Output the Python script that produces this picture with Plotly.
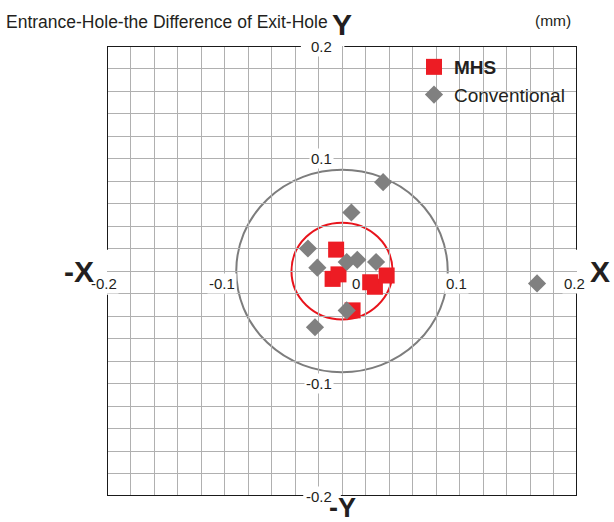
import plotly.graph_objects as go

# Hole position deviations (mm): entrance hole minus exit hole
mhs_x = [-0.005, -0.008, -0.003, 0.024, 0.028, 0.038, 0.009]
mhs_y = [0.019, -0.007, -0.003, -0.010, -0.014, -0.004, -0.035]

conv_x = [0.035, 0.008, -0.029, -0.021, 0.004, 0.013, 0.029, 0.004, -0.023, 0.166]
conv_y = [0.079, 0.052, 0.020, 0.003, 0.008, 0.010, 0.008, -0.035, -0.050, -0.011]

# Reference circles (radius in mm)
circle_radii = [0.09, 0.043]
circle_colors = ["#7d7d7d", "#e8141c"]

x_tick_labels = ["-0.2", "-0.1", "0.1", "0.2"]
y_tick_labels = ["0.2", "0.1", "-0.1", "-0.2"]

TEXT = "#231f20"
FONT = "Liberation Sans, Arial, sans-serif"

fig = go.Figure()

fig.add_trace(go.Scatter(
    x=mhs_x, y=mhs_y, mode="markers", name="<b>MHS</b>",
    legendgroup="mhs",
    marker=dict(symbol="square", size=16, color="#ed1c24", line=dict(width=0)),
))
fig.add_trace(go.Scatter(
    x=conv_x, y=conv_y, mode="markers", name="Conventional",
    legendgroup="conv",
    marker=dict(symbol="diamond", size=14, color="#808080", line=dict(width=0)),
))

shapes = []
for r, c in zip(circle_radii, circle_colors):
    shapes.append(dict(type="circle", xref="x", yref="y", x0=-r, x1=r, y0=-r, y1=r,
                       line=dict(color=c, width=2), layer="below"))

# Plot frame, drawn in segments so the edge labels sit in gaps
frame = dict(color="#1a1a1a", width=2)
frame_segments = [
    # left edge
    (-0.2, 0.2, -0.2, 0.019), (-0.2, -0.021, -0.2, -0.2),
    # right edge
    (0.2, 0.2, 0.2, 0.019), (0.2, -0.017, 0.2, -0.2),
    # top edge
    (-0.2, 0.2, -0.035, 0.2), (0.002, 0.2, 0.2, 0.2),
    # bottom edge
    (-0.2, -0.2, -0.033, -0.2), (-0.001, -0.2, 0.2, -0.2),
]
for x0, y0, x1, y1 in frame_segments:
    shapes.append(dict(type="line", xref="x", yref="y", x0=x0, y0=y0, x1=x1, y1=y1,
                       line=frame, layer="above"))

annotations = []
tick_font = dict(family=FONT, size=15, color=TEXT)
for lab in x_tick_labels:
    annotations.append(dict(x=float(lab), y=0, xref="x", yref="y", text=lab,
                            showarrow=False, xanchor="center", yanchor="middle",
                            xshift=-3, yshift=-12, font=tick_font,
                            bgcolor="white", borderpad=1))
for lab in y_tick_labels:
    annotations.append(dict(x=0, y=float(lab), xref="x", yref="y", text=lab,
                            showarrow=False, xanchor="right", yanchor="middle",
                            xshift=-8, yshift=0, font=tick_font,
                            bgcolor="white", borderpad=1))
annotations.append(dict(x=0, y=0, xref="x", yref="y", text="0", showarrow=False,
                        xanchor="center", yanchor="middle", xshift=14, yshift=-12,
                        font=tick_font))

# Axis direction labels
big = dict(family=FONT, size=30, color=TEXT)
annotations += [
    dict(x=0, y=1, xref="x", yref="paper", text="<b>Y</b>", showarrow=False,
         xanchor="center", yanchor="bottom", yshift=3, font=big),
    dict(x=0, y=0, xref="x", yref="paper", text="<b>-Y</b>", showarrow=False,
         xanchor="center", yanchor="top", yshift=5,
         font=dict(family=FONT, size=27, color=TEXT)),
    dict(x=0, y=0, xref="paper", yref="y", text="<b>-X</b>", showarrow=False,
         xanchor="right", yanchor="middle", xshift=-11, font=big),
    dict(x=1, y=0, xref="paper", yref="y", text="<b>X</b>", showarrow=False,
         xanchor="left", yanchor="middle", xshift=11, font=big),
]

# Title and unit
annotations += [
    dict(x=-103 / 470, y=1 + 24 / 450, xref="paper", yref="paper",
         text="Entrance-Hole-the Difference of Exit-Hole", showarrow=False,
         xanchor="left", yanchor="middle",
         font=dict(family=FONT, size=17.5, color=TEXT)),
    dict(x=(573 - 107) / 470, y=1 + 26 / 450, xref="paper", yref="paper",
         text="(mm)", showarrow=False, xanchor="right", yanchor="middle",
         font=dict(family=FONT, size=15.5, color=TEXT)),
]

fig.update_layout(
    width=614, height=522,
    margin=dict(l=107, r=37, t=46, b=26),
    paper_bgcolor="white", plot_bgcolor="white",
    showlegend=True,
    legend=dict(x=(414 - 107) / 470, y=1 - (48 - 46) / 450, xanchor="left", yanchor="top",
                bgcolor="rgba(0,0,0,0)", borderwidth=0, tracegroupgap=0,
                font=dict(family=FONT, size=19, color=TEXT)),
    xaxis=dict(range=[-0.2, 0.2], dtick=0.02, tick0=0, showticklabels=False,
               ticks="", showgrid=True, gridcolor="#b0b0b0", gridwidth=1.3,
               zeroline=True, zerolinecolor="#b0b0b0", zerolinewidth=1.3,
               showline=False, fixedrange=True),
    yaxis=dict(range=[-0.2, 0.2], dtick=0.02, tick0=0, showticklabels=False,
               ticks="", showgrid=True, gridcolor="#b0b0b0", gridwidth=1.3,
               zeroline=True, zerolinecolor="#b0b0b0", zerolinewidth=1.3,
               showline=False, fixedrange=True),
    shapes=shapes,
    annotations=annotations,
)

fig.write_html("out.html")
